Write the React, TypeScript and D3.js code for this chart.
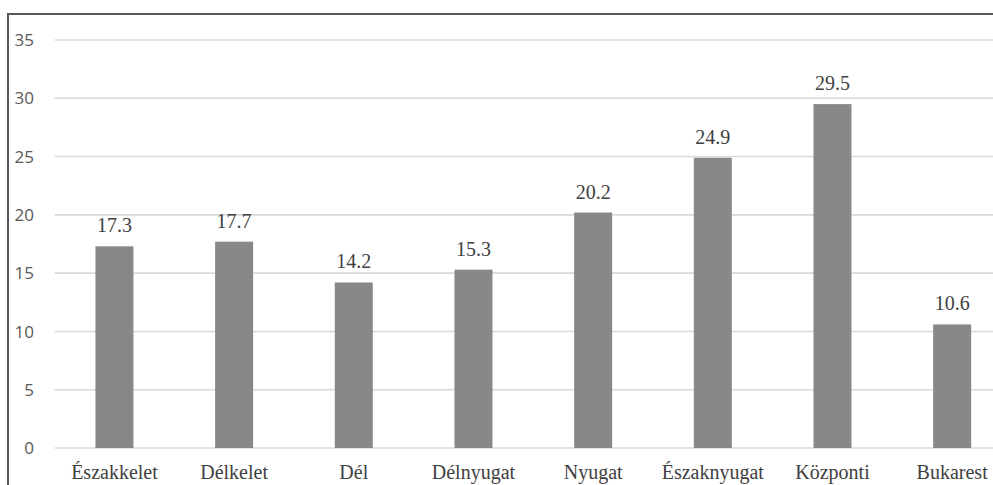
import React from "react";
import * as d3 from "d3";

const categories: string[] = [
  "Északkelet",
  "Délkelet",
  "Dél",
  "Délnyugat",
  "Nyugat",
  "Északnyugat",
  "Központi",
  "Bukarest",
];
const values: number[] = [17.3, 17.7, 14.2, 15.3, 20.2, 24.9, 29.5, 10.6];
const yTicks: number[] = [0, 5, 10, 15, 20, 25, 30, 35];

const W = 993;
const H = 485;
const plotLeft = 54.6;
const plotRight = 1012;
const yBottom = 448;
const yTop = 40;

export default function App() {
  const x = d3
    .scaleBand<string>()
    .domain(categories)
    .range([plotLeft, plotRight])
    .paddingInner(0)
    .paddingOuter(0);
  const y = d3.scaleLinear().domain([0, 35]).range([yBottom, yTop]);
  const barW = 38;

  return (
    <svg width={W} height={H} style={{ position: "absolute", left: 0, top: 0 }}>
      <rect x={0} y={0} width={W} height={H} fill="#fff" />
      {/* frame */}
      <rect x={8} y={14} width={1100} height={600} fill="none" stroke="#5a5a5a" strokeWidth={2} />
      {/* gridlines */}
      {yTicks.map((t) => (
        <line key={"g" + t} x1={plotLeft} x2={plotRight} y1={y(t)} y2={y(t)} stroke="#d9d9d9" strokeWidth={1.6} />
      ))}
      {/* y tick labels */}
      <g style={{ fontFamily: "Open Sans", fontSize: "17px" }} fill="#595959">
        {yTicks.map((t) => (
          <text key={"t" + t} x={34} y={y(t)} dy="0.36em" textAnchor="end">
            {t}
          </text>
        ))}
      </g>
      {/* bars */}
      {categories.map((c, i) => {
        const cx = (x(c) as number) + x.bandwidth() / 2;
        return (
          <rect key={"b" + c} x={cx - barW / 2} y={y(values[i])} width={barW} height={y(0) - y(values[i])} fill="#87888a" />
        );
      })}
      <g style={{ fontFamily: "Liberation Serif", fontSize: "20px" }} fill="#404040">
        {/* value labels */}
        {categories.map((c, i) => {
          const cx = (x(c) as number) + x.bandwidth() / 2;
          return (
            <text key={"v" + c} x={cx} y={y(values[i]) - 14} textAnchor="middle">
              {values[i].toFixed(1)}
            </text>
          );
        })}
        {/* category labels */}
        {categories.map((c) => {
          const cx = (x(c) as number) + x.bandwidth() / 2;
          return (
            <text key={"c" + c} x={cx} y={479} textAnchor="middle">
              {c}
            </text>
          );
        })}
      </g>
    </svg>
  );
}
